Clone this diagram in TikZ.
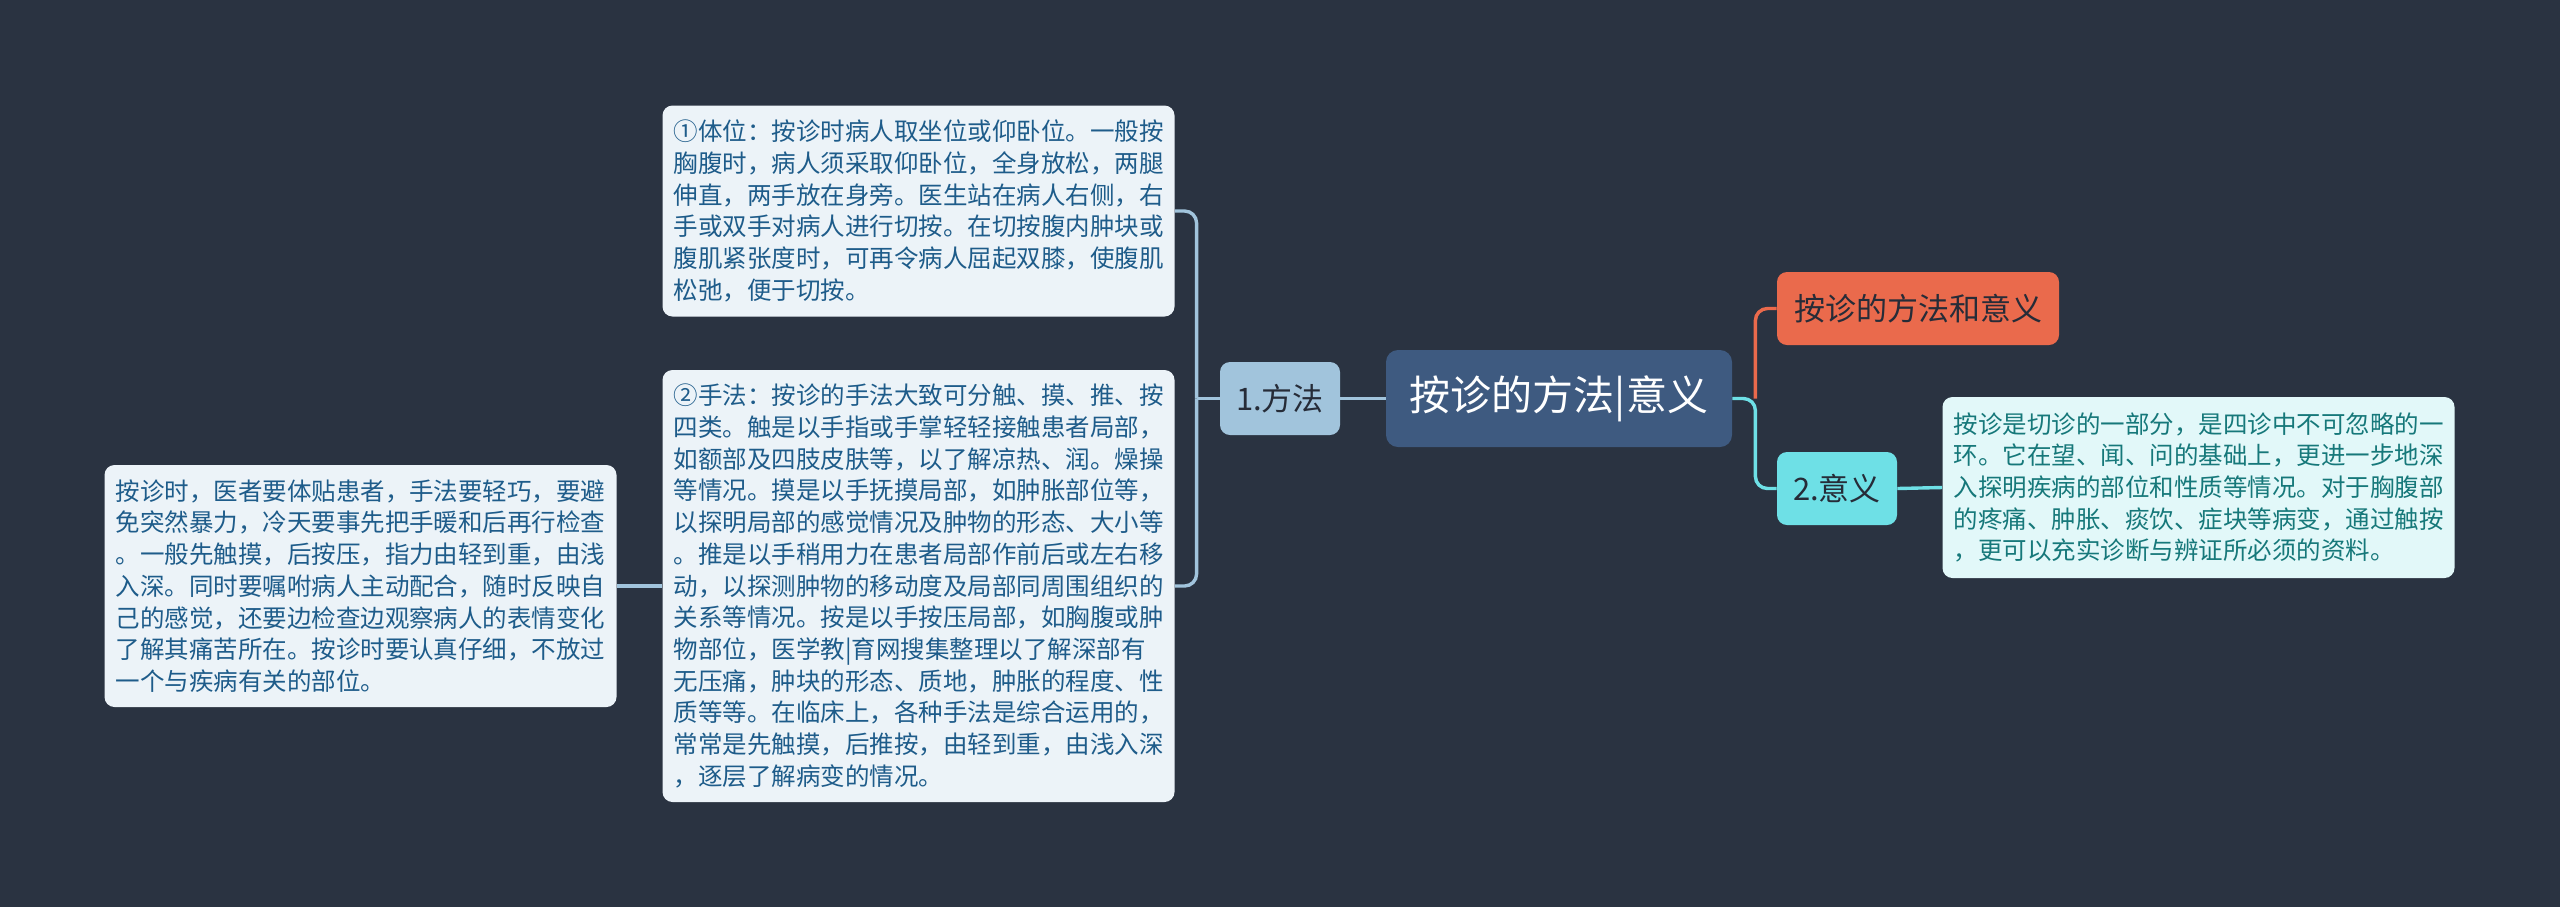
\documentclass[tikz,border=0pt]{standalone}
\usepackage{fontspec}
\setmainfont{Noto Sans CJK SC}
\usepackage{tikz}
\usetikzlibrary{positioning, calc}
\definecolor{bgdark}{RGB}{42,51,65}
\definecolor{rootblue}{RGB}{62,90,128}
\definecolor{branchblue}{RGB}{161,196,220}
\definecolor{accentorange}{RGB}{234,106,76}
\definecolor{accentcyan}{RGB}{110,224,230}
\definecolor{leafbg}{RGB}{236,243,248}
\definecolor{leaftext}{RGB}{30,92,138}
\definecolor{cyanleafbg}{RGB}{226,248,249}
\definecolor{cyanleaftext}{RGB}{22,120,122}
\definecolor{darktext}{RGB}{38,44,56}

\begin{document}
\begin{tikzpicture}[
    x=0.5pt, y=-0.5pt,
    root/.style={
        fill=rootblue,
        rounded corners=6pt,
        minimum width=173pt,
        minimum height=48.5pt,
        text=white,
        font=\fontsize{20.5}{24}\selectfont
    },
    branch/.style={
        rounded corners=5pt,
        minimum height=36.5pt,
        inner xsep=6pt,
        text=darktext,
        font=\fontsize{15.5}{18}\selectfont
    },
    leaf/.style={
        fill=leafbg,
        rounded corners=5pt,
        text width=245pt,
        inner xsep=5.5pt,
        align=left,
        text=leaftext,
        font=\fontsize{12.25}{15.85}\selectfont
    },
    link/.style={
        line width=1.7pt,
        rounded corners=6pt
    }
]

% Background
\fill[bgdark] (0,0) rectangle (2560,907);
\useasboundingbox (0,0) rectangle (2560,907);

% Root
\node[root] (root) at (1559,398.5) {按诊的方法|意义};

% Left side
\node[branch, fill=branchblue, minimum width=60pt] (fangfa) at (1280,398.5) {1.方法};
\node[leaf, minimum height=105.5pt] (tiwei) at (918.5,211) {①体位：按诊时病人取坐位或仰卧位。一般按\\胸腹时，病人须采取仰卧位，全身放松，两腿\\伸直，两手放在身旁。医生站在病人右侧，右\\手或双手对病人进行切按。在切按腹内肿块或\\腹肌紧张度时，可再令病人屈起双膝，使腹肌\\松弛，便于切按。};
\node[leaf, minimum height=216pt] (shoufa) at (918.5,586) {②手法：按诊的手法大致可分触、摸、推、按\\四类。触是以手指或手掌轻轻接触患者局部，\\如额部及四肢皮肤等，以了解凉热、润。燥操\\等情况。摸是以手抚摸局部，如肿胀部位等，\\以探明局部的感觉情况及肿物的形态、大小等\\。推是以手稍用力在患者局部作前后或左右移\\动，以探测肿物的移动度及局部同周围组织的\\关系等情况。按是以手按压局部，如胸腹或肿\\物部位，医学教|育网搜集整理以了解深部有\\无压痛，肿块的形态、质地，肿胀的程度、性\\质等等。在临床上，各种手法是综合运用的，\\常常是先触摸，后推按，由轻到重，由浅入深\\，逐层了解病变的情况。};
\node[leaf, minimum height=121pt] (zhuyi) at (360.5,586) {按诊时，医者要体贴患者，手法要轻巧，要避\\免突然暴力，冷天要事先把手暖和后再行检查\\。一般先触摸，后按压，指力由轻到重，由浅\\入深。同时要嘱咐病人主动配合，随时反映自\\己的感觉，还要边检查边观察病人的表情变化\\了解其痛苦所在。按诊时要认真仔细，不放过\\一个与疾病有关的部位。};

% Right side
\node[branch, fill=accentorange, minimum width=141pt] (title) at (1918,308.5) {按诊的方法和意义};
\node[branch, fill=accentcyan, minimum width=60pt] (yiyi) at (1837,488.5) {2.意义};
\node[leaf, fill=cyanleafbg, text=cyanleaftext, minimum height=90.5pt] (yiyidetail) at (2198.5,487.5) {按诊是切诊的一部分，是四诊中不可忽略的一\\环。它在望、闻、问的基础上，更进一步地深\\入探明疾病的部位和性质等情况。对于胸腹部\\的疼痛、肿胀、痰饮、症块等病变，通过触按\\，更可以充实诊断与辨证所必须的资料。};

% Connectors
\coordinate (lfork) at ($(fangfa.west)+(-23,0)$);
\coordinate (rfork) at ($(root.east)+(23,0)$);
\draw[link, branchblue] (root.west) -- (fangfa.east);
\draw[link, branchblue] (fangfa.west) -- (lfork);
\draw[link, branchblue] (lfork) |- (tiwei.east);
\draw[link, branchblue] (lfork) |- (shoufa.east);
\draw[link, branchblue] (shoufa.west) -- (zhuyi.east);
\draw[link, accentorange] (rfork) |- (title.west);
\draw[link, accentcyan] (root.east) -- (rfork) |- (yiyi.west);
\draw[link, accentcyan] (yiyi.east) -- (yiyidetail.west);

\end{tikzpicture}
\end{document}
